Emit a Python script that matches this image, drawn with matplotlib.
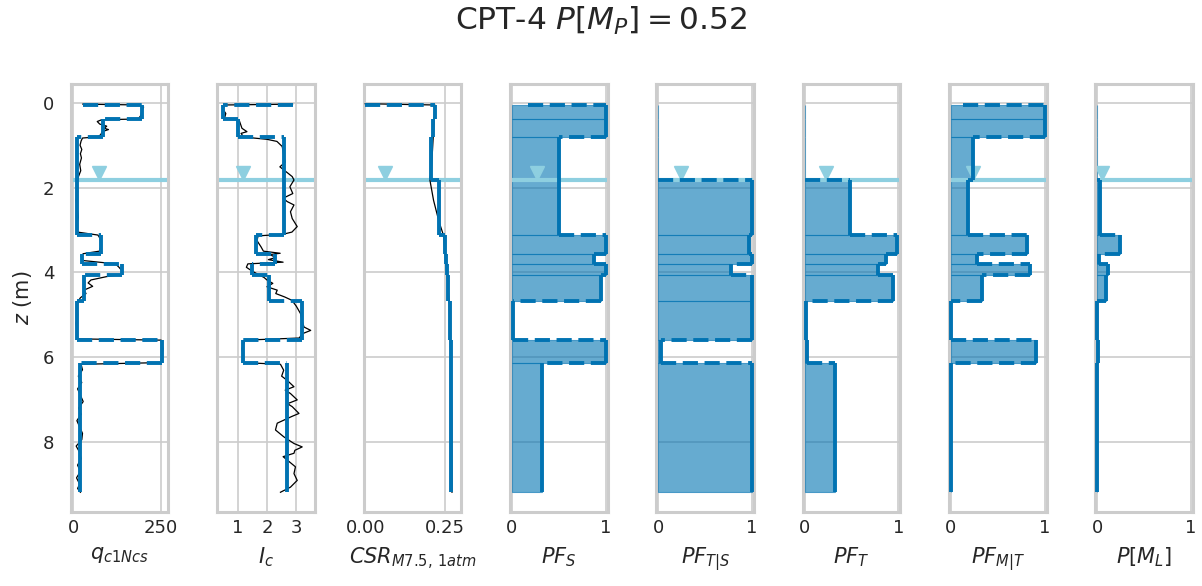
import matplotlib.pyplot as plt
import numpy as np

# layer boundaries (m) and water table
z_bounds = [0.05, 0.39, 0.81, 1.82, 3.12, 3.56, 3.80, 4.07, 4.68, 5.59, 6.15, 9.19]
z_water = 1.82

# layer values (nan = not plotted, above water table)
nan = np.nan
qc_layers = [195, 83, 11, 11, 78, 25, 138, 31, 9, 253, 19]
ic_layers = [0.51, 1.02, 2.59, 2.59, 1.62, 2.28, 1.48, 2.08, 3.19, 1.19, 2.68]
csr_layers = [0.219, 0.214, 0.208, 0.232, 0.250, 0.253, 0.257, 0.262, 0.267, 0.270, 0.271]
pfs_layers = [1.0, 1.0, 0.50, 0.50, 1.0, 0.88, 1.0, 0.955, 0.015, 1.0, 0.32]
pfts_layers = [nan, nan, nan, 1.0, 0.97, 1.0, 0.78, 1.0, 1.0, 0.03, 1.0]
pft_layers = [nan, nan, nan, 0.48, 0.98, 0.87, 0.78, 0.945, 0.01, 0.03, 0.32]
pfmt_layers = [1.0, 1.0, 0.23, 0.18, 0.81, 0.28, 0.84, 0.335, 0.0, 0.91, 0.005]
pml_layers = [nan, nan, nan, 0.025, 0.245, 0.02, 0.11, 0.09, 0.0, 0.003, 0.0]
start_vals = [27, 2.87, 0.0, 0.17, 0.0, 0.0, 0.13, 0.0]

# raw CPT profiles
qc_raw_z = [0.03, 0.05, 0.10, 0.20, 0.30, 0.38, 0.40, 0.44, 0.50, 0.55, 0.60, 0.63, 0.68, 0.75,
            0.80, 0.83, 0.90, 1.00, 1.10, 1.20, 1.30, 1.45, 1.60, 1.75, 1.90, 2.10, 2.30, 2.50,
            2.70, 2.90, 3.05, 3.12, 3.20, 3.35, 3.50, 3.56, 3.62, 3.72, 3.80, 3.88, 3.98, 4.05,
            4.10, 4.18, 4.25, 4.33, 4.42, 4.50, 4.60, 4.68, 4.80, 5.00, 5.20, 5.40, 5.57, 5.60,
            5.80, 6.00, 6.13, 6.17, 6.30, 6.45, 6.60, 6.75, 6.90, 7.05, 7.20, 7.35, 7.50, 7.65,
            7.80, 7.95, 8.10, 8.25, 8.40, 8.55, 8.70, 8.85, 9.00, 9.10, 9.19]
qc_raw = [27, 190, 200, 195, 192, 185, 80, 68, 75, 95, 88, 100, 82, 78,
          70, 26, 22, 19, 24, 20, 23, 18, 21, 14, 10, 12, 8, 11,
          14, 9, 12, 70, 76, 80, 74, 28, 22, 26, 120, 130, 140, 138,
          95, 50, 42, 55, 30, 36, 20, 14, 10, 12, 8, 11, 10, 250,
          255, 252, 250, 22, 26, 14, 24, 12, 20, 28, 15, 22, 10, 18,
          26, 24, 8, 18, 22, 12, 20, 9, 18, 12, 20]

ic_raw_z = [0.03, 0.05, 0.15, 0.25, 0.38, 0.40, 0.50, 0.60, 0.68, 0.72, 0.80, 0.83, 0.86, 0.91,
            1.03, 1.27, 1.40, 1.51, 1.58, 1.74, 1.82, 1.98, 2.14, 2.25, 2.33, 2.41, 2.57, 2.73,
            2.92, 3.05, 3.10, 3.14, 3.25, 3.40, 3.50, 3.55, 3.58, 3.65, 3.70, 3.76, 3.80, 3.88,
            3.95, 4.05, 4.12, 4.18, 4.26, 4.34, 4.42, 4.50, 4.58, 4.66, 4.80, 4.97, 5.15, 5.29,
            5.37, 5.45, 5.55, 5.60, 5.80, 6.00, 6.13, 6.17, 6.31, 6.45, 6.55, 6.70, 6.78, 6.86,
            7.01, 7.10, 7.17, 7.33, 7.40, 7.48, 7.56, 7.72, 7.88, 8.04, 8.12, 8.20, 8.27, 8.35,
            8.43, 8.59, 8.75, 8.91, 9.07, 9.19]
ic_raw = [2.87, 0.55, 0.50, 0.60, 0.55, 1.05, 1.10, 1.15, 1.32, 1.12, 1.20, 1.55, 2.00, 2.34,
          2.52, 2.58, 2.62, 2.44, 2.57, 2.86, 2.92, 2.78, 2.88, 2.55, 2.69, 2.92, 2.80, 2.86,
          3.03, 2.85, 2.55, 1.70, 1.66, 1.80, 1.88, 2.45, 2.10, 2.30, 2.05, 2.55, 1.35, 1.30,
          1.45, 1.70, 1.90, 2.00, 2.20, 2.00, 2.35, 2.30, 2.60, 2.85, 3.00, 3.14, 3.20, 3.26,
          3.49, 3.20, 3.10, 1.25, 1.15, 1.20, 1.20, 2.46, 2.57, 2.50, 2.69, 2.92, 2.62, 2.80,
          3.03, 2.70, 2.86, 3.09, 2.85, 2.60, 2.35, 2.29, 2.57, 2.92, 3.20, 2.95, 2.92, 2.55,
          2.69, 2.97, 2.92, 3.03, 2.80, 2.46]

csr_raw_z = [0.02, 0.05, 0.40, 0.81, 1.20, 1.60, 1.80, 2.30, 2.80, 3.12, 3.60, 4.10, 4.70,
             5.60, 6.20, 7.50, 9.19]
csr_raw = [0.0, 0.219, 0.217, 0.214, 0.211, 0.208, 0.203, 0.215, 0.232, 0.246, 0.252, 0.258,
           0.264, 0.268, 0.270, 0.272, 0.273]

xlabels = [r'$q_{c1Ncs}$', r'$I_c$', r'$CSR_{M7.5,\,1atm}$', r'$PF_S$', r'$PF_{T|S}$',
           r'$PF_T$', r'$PF_{M|T}$', r'$P[M_L]$']
xlims = [(-7, 271), (0.31, 3.63), (-0.005, 0.302)] + [(-0.02, 1.02)] * 5
xticks = [[0, 250], [1, 2, 3], [0.0, 0.25]] + [[0, 1]] * 5
xticklabels = [['0', '250'], ['1', '2', '3'], ['0.00', '0.25']] + [['0', '1']] * 5
tri_x = [72, 1.17, 0.0625, 0.27, 0.24, 0.23, 0.24, 0.05]

BLUE = '#0173b2'
WATER = '#8ecfe0'
GRID = '#cccccc'
LW = 2.8
DASH = (0, (3.9, 1.7))


def draw_steps(ax, layers, start):
    prev = start
    for i, v in enumerate(layers):
        if np.isnan(v):
            continue
        zt, zb = z_bounds[i], z_bounds[i + 1]
        ax.plot([prev, v], [zt, zt], color=BLUE, lw=LW, ls=DASH, zorder=4)
        ax.plot([v, v], [zt, zb], color=BLUE, lw=LW, zorder=4, solid_capstyle='butt')
        prev = v


def draw_fill(ax, layers):
    for i, v in enumerate(layers):
        v = 0.0 if np.isnan(v) else v
        ax.fill_betweenx([z_bounds[i], z_bounds[i + 1]], 0, v, color=BLUE, alpha=0.6,
                         lw=0.8, zorder=1)


def main():
    fig, axes = plt.subplots(1, 8, figsize=(12.02, 5.86), dpi=100, sharey=True)
    plt.subplots_adjust(left=0.059, right=0.9925, top=0.857, bottom=0.126, wspace=0.5)

    all_layers = [qc_layers, ic_layers, csr_layers, pfs_layers, pfts_layers,
                  pft_layers, pfmt_layers, pml_layers]
    raws = [(qc_raw, qc_raw_z), (ic_raw, ic_raw_z), (csr_raw, csr_raw_z)]

    for k, ax in enumerate(axes):
        ax.set_axisbelow(True)
        ax.grid(True, color=GRID, lw=1.2)
        for s in ax.spines.values():
            s.set_color(GRID)
            s.set_linewidth(2.2)
        if k >= 3:
            draw_fill(ax, all_layers[k])
        ax.axhline(z_water, color=WATER, lw=3, zorder=1.5)
        ax.plot([tri_x[k]], [z_water - 0.17], marker='v', ms=9.5, color=WATER, zorder=1.6)
        if k < 3:
            ax.plot(raws[k][0], raws[k][1], color='black', lw=0.9, zorder=3)
        draw_steps(ax, all_layers[k], start_vals[k])

        ax.set_xlim(*xlims[k])
        ax.set_xticks(xticks[k])
        ax.set_xticklabels(xticklabels[k])
        ax.set_xlabel(xlabels[k], fontsize=15, color='#262626', labelpad=6)
        ax.tick_params(axis='x', length=0, labelsize=13, labelcolor='#262626', pad=5)
        ax.tick_params(axis='y', length=0, labelsize=13, labelcolor='#262626', pad=12)

    axes[0].set_ylim(9.66, -0.45)
    axes[0].set_yticks([0, 2, 4, 6, 8])
    axes[0].set_ylabel('$z$ (m)', fontsize=15, color='#262626', labelpad=6)

    fig.suptitle(r'CPT-4 $P[M_P] = 0.52$', fontsize=22.5, y=0.964, va='center',
                 color='#262626')
    plt.savefig('out.png', dpi=100)


if __name__ == "__main__":
    main()
